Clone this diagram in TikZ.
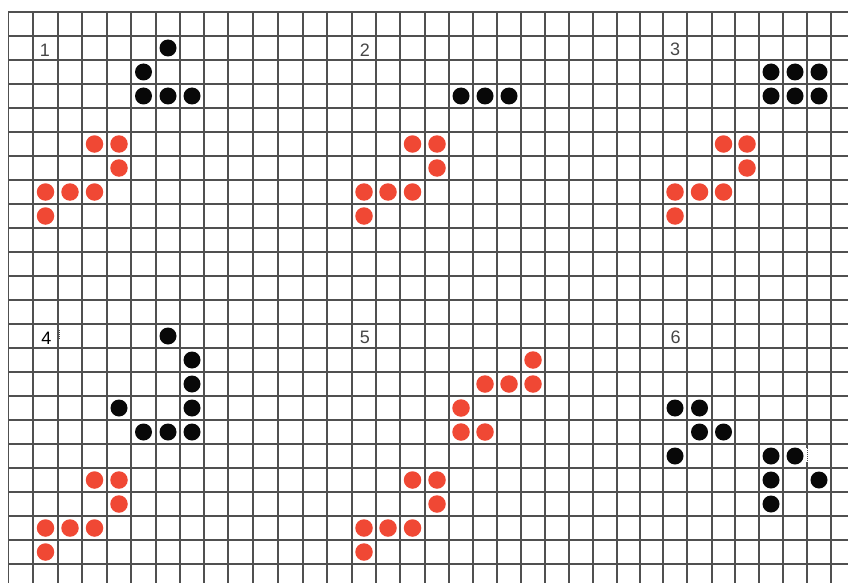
\documentclass[tikz,border=0pt]{standalone}
\usepackage{fontspec}
\setsansfont{Liberation Sans}
\definecolor{gridc}{RGB}{80,80,80}
\definecolor{dotred}{RGB}{240,72,52}
\definecolor{numc}{RGB}{70,70,70}
\definecolor{dotblk}{RGB}{8,8,8}
\foreach \v [count=\i from 0] in {8.3,33,58,82,107,131,156,180,204,228,253,278,303,327,352,376,400,425,449,473,497,521,545,569,593,617,640,663,687,712,735,759,783,807,831,855}{%
  \expandafter\xdef\csname xl\i\endcsname{\v}}
\newcommand\xline[1]{\csname xl\number#1\endcsname}
\newcommand\gdot[4]{%
  \edef\gxa{\xline{#3}}%
  \edef\gxb{\csname xl\the\numexpr#3+1\relax\endcsname}%
  \pgfmathsetmacro\gx{(\gxa+\gxb)/2}%
  \pgfmathsetmacro\gy{24+24*#4}%
  \node[#2] (#1) at (\gx,\gy) {};}
\tikzset{
  gridline/.style={draw=gridc, line width=1.5pt},
  reddot/.style={circle, fill=dotred, draw=none, minimum size=17.5pt, inner sep=0pt},
  blackdot/.style={circle, fill=dotblk, draw=none, minimum size=17pt, inner sep=0pt},
  numlabel/.style={font=\sffamily\fontsize{18}{18}\selectfont, text=numc, inner sep=0pt},
  artifact/.style={draw=gridc, line width=0.9pt, dash pattern=on 1pt off 1pt},
}
\begin{document}
\begin{tikzpicture}[x=1pt,y=-1pt]
\useasboundingbox (0,0) rectangle (848,583);
\fill[white] (0,0) rectangle (848,583);
% grid
\begin{scope}
\clip (0,0) rectangle (848,583);
\foreach \k in {0,...,34}{
  \edef\lx{\xline{\k}}
  \draw[gridline] (\lx,12) -- (\lx,583);
}
\foreach \k in {0,...,23}{
  \draw[gridline] (8.3,12+24*\k) -- (848,12+24*\k);
}
\end{scope}
% artifacts
\draw[white, line width=2pt] (807,448) -- (807,462);
\draw[artifact] (807,448) -- (807,462);
\draw[artifact] (59.3,330) -- (59.3,340);
\draw[artifact] (472.5,353) -- (472.5,364);
\draw[artifact] (472.5,380) -- (472.5,386);
% numbers
\node[numlabel] (n1) at (45,50) {1};
\node[numlabel] (n2) at (365,50) {2};
\node[numlabel] (n3) at (675,49) {3};
\node[numlabel, text=black] (n4) at (46.5,338) {4};
\node[numlabel] (n5) at (365,337) {5};
\node[numlabel] (n6) at (675.5,337) {6};
% panel 1
\gdot{p1b1}{blackdot}{6}{1}
\gdot{p1b2}{blackdot}{5}{2}
\gdot{p1b3}{blackdot}{5}{3}
\gdot{p1b4}{blackdot}{6}{3}
\gdot{p1b5}{blackdot}{7}{3}
\gdot{p1r1}{reddot}{3}{5}
\gdot{p1r2}{reddot}{4}{5}
\gdot{p1r3}{reddot}{4}{6}
\gdot{p1r4}{reddot}{1}{7}
\gdot{p1r5}{reddot}{2}{7}
\gdot{p1r6}{reddot}{3}{7}
\gdot{p1r7}{reddot}{1}{8}
% panel 2
\gdot{p2b1}{blackdot}{18}{3}
\gdot{p2b2}{blackdot}{19}{3}
\gdot{p2b3}{blackdot}{20}{3}
\gdot{p2r1}{reddot}{16}{5}
\gdot{p2r2}{reddot}{17}{5}
\gdot{p2r3}{reddot}{17}{6}
\gdot{p2r4}{reddot}{14}{7}
\gdot{p2r5}{reddot}{15}{7}
\gdot{p2r6}{reddot}{16}{7}
\gdot{p2r7}{reddot}{14}{8}
% panel 3
\gdot{p3b1}{blackdot}{31}{2}
\gdot{p3b2}{blackdot}{32}{2}
\gdot{p3b3}{blackdot}{33}{2}
\gdot{p3b4}{blackdot}{31}{3}
\gdot{p3b5}{blackdot}{32}{3}
\gdot{p3b6}{blackdot}{33}{3}
\gdot{p3r1}{reddot}{29}{5}
\gdot{p3r2}{reddot}{30}{5}
\gdot{p3r3}{reddot}{30}{6}
\gdot{p3r4}{reddot}{27}{7}
\gdot{p3r5}{reddot}{28}{7}
\gdot{p3r6}{reddot}{29}{7}
\gdot{p3r7}{reddot}{27}{8}
% panel 4
\gdot{p4b1}{blackdot}{6}{13}
\gdot{p4b2}{blackdot}{7}{14}
\gdot{p4b3}{blackdot}{7}{15}
\gdot{p4b4}{blackdot}{7}{16}
\gdot{p4b5}{blackdot}{4}{16}
\gdot{p4b6}{blackdot}{5}{17}
\gdot{p4b7}{blackdot}{6}{17}
\gdot{p4b8}{blackdot}{7}{17}
\gdot{p4r1}{reddot}{3}{19}
\gdot{p4r2}{reddot}{4}{19}
\gdot{p4r3}{reddot}{4}{20}
\gdot{p4r4}{reddot}{1}{21}
\gdot{p4r5}{reddot}{2}{21}
\gdot{p4r6}{reddot}{3}{21}
\gdot{p4r7}{reddot}{1}{22}
% panel 5
\gdot{p5u1}{reddot}{21}{14}
\gdot{p5u2}{reddot}{19}{15}
\gdot{p5u3}{reddot}{20}{15}
\gdot{p5u4}{reddot}{21}{15}
\gdot{p5u5}{reddot}{18}{16}
\gdot{p5u6}{reddot}{18}{17}
\gdot{p5u7}{reddot}{19}{17}
\gdot{p5r1}{reddot}{16}{19}
\gdot{p5r2}{reddot}{17}{19}
\gdot{p5r3}{reddot}{17}{20}
\gdot{p5r4}{reddot}{14}{21}
\gdot{p5r5}{reddot}{15}{21}
\gdot{p5r6}{reddot}{16}{21}
\gdot{p5r7}{reddot}{14}{22}
% panel 6
\gdot{p6a1}{blackdot}{27}{16}
\gdot{p6a2}{blackdot}{28}{16}
\gdot{p6a3}{blackdot}{28}{17}
\gdot{p6a4}{blackdot}{29}{17}
\gdot{p6a5}{blackdot}{27}{18}
\gdot{p6b1}{blackdot}{31}{18}
\gdot{p6b2}{blackdot}{32}{18}
\gdot{p6b3}{blackdot}{31}{19}
\gdot{p6b4}{blackdot}{33}{19}
\gdot{p6b5}{blackdot}{31}{20}
\end{tikzpicture}
\end{document}
